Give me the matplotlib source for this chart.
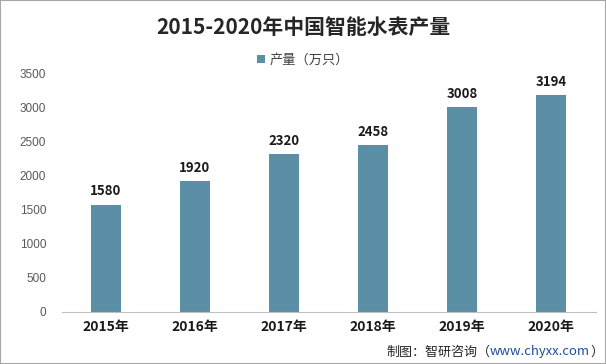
import matplotlib
matplotlib.use("Agg")
import matplotlib.pyplot as plt
from matplotlib.patches import Rectangle

plt.rcParams['font.family'] = ['Noto Sans CJK SC', 'DejaVu Sans']

years = ["2015年", "2016年", "2017年", "2018年", "2019年", "2020年"]
values = [1580, 1920, 2320, 2458, 3008, 3194]
yticks = [0, 500, 1000, 1500, 2000, 2500, 3000, 3500]

W, H = 606, 364
fig = plt.figure(figsize=(W/100, H/100), dpi=100)
fig.patch.set_facecolor("white")
fig.patches.append(Rectangle((0, 0), 1, 1, transform=fig.transFigure, fill=False,
                             edgecolor="#a6a6a6", linewidth=1.5))

ax = fig.add_axes([61.5/W, (H-312)/H, 534/W, 238/H])
color = "#5b8fa6"
x = list(range(len(years)))
bars = ax.bar(x, values, width=0.34, color=color, label="产量（万只）")
ax.set_xlim(-0.5, len(years)-0.5)
ax.set_ylim(0, 3500)
ax.set_yticks(yticks)
ax.set_yticklabels([str(t) for t in yticks], fontsize=8.5, color="#595959", family="Liberation Sans")
ax.set_xticks(x)
ax.set_xticklabels(years, fontsize=10, fontweight="bold", color="#1a1a1a")
for s in ["top", "right", "left"]:
    ax.spines[s].set_visible(False)
ax.spines["bottom"].set_color("#bfbfbf")
ax.tick_params(axis="both", length=0)
ax.tick_params(axis="y", pad=11)
ax.tick_params(axis="x", pad=6)
for xi, v in zip(x, values):
    ax.text(xi, v + 90, str(v), ha="center", va="bottom", fontsize=9.5,
            fontweight="bold", color="#1a1a1a")

fig.text(0.5, (H-28)/H, "2015-2020年中国智能水表产量", ha="center", va="center",
         fontsize=15, fontweight="bold", color="#262626")
leg = ax.legend(loc="center", bbox_to_anchor=(0.5, (H-60)/H), bbox_transform=fig.transFigure,
                frameon=False, fontsize=9.5, handlelength=0.6, handleheight=0.6,
                handletextpad=0.3)
for t in leg.get_texts():
    t.set_color("#404040")

fs = 9.4
t1 = fig.text(386/W, (H-352)/H, "制图：智研咨询（", ha="left", va="center", fontsize=fs, color="#262626")
a2 = ax.annotate("www.chyxx.com", xy=(1, 0.5), xycoords=t1, ha="left", va="center",
                 fontsize=fs, color="#1f4e9a", annotation_clip=False)
a3 = ax.annotate("）", xy=(1, 0.5), xycoords=a2, ha="left", va="center",
                 fontsize=fs, color="#262626", annotation_clip=False)

fig.savefig("out.png", dpi=100)
